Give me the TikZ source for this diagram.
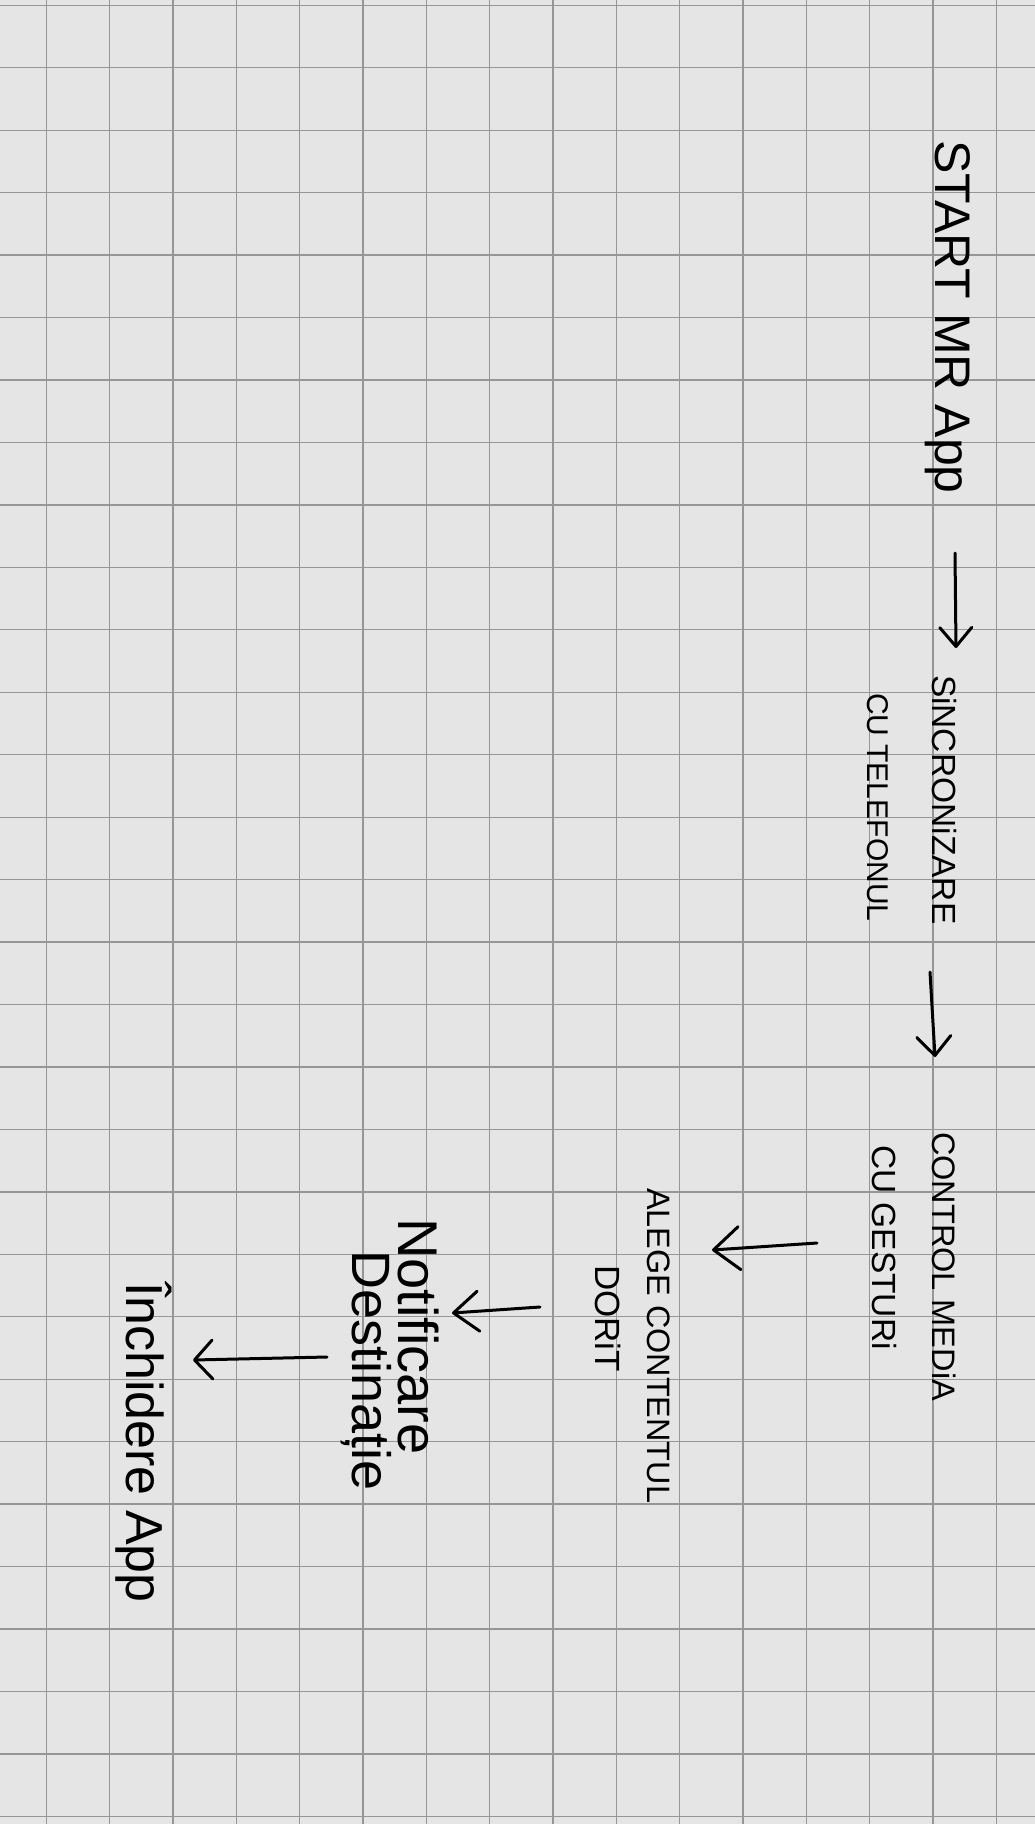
\documentclass[tikz,border=0pt]{standalone}
\usepackage{fontspec}
\setmainfont{Liberation Sans}
\usetikzlibrary{arrows.meta}
\definecolor{paper}{RGB}{229,229,229}
\definecolor{gridc}{RGB}{150,150,150}
\begin{document}
\begin{tikzpicture}[x=1pt,y=-1pt,
  lbl/.style={rotate=-90, anchor=base west, inner sep=0pt, outer sep=0pt, text=black},
  fs/.style={font=\fontsize{#1}{#1}\selectfont},
  flow/.style={line width=3pt, line cap=round, -{Straight Barb[length=#1,round]}},
  gridline/.style={draw=gridc, line width=1.3pt}]
\fill[paper] (0,0) rectangle (1035,1824);
\useasboundingbox (0,0) rectangle (1035,1824);
\foreach \k in {0,...,15} \draw[gridline] ({46.3+63.34*\k},0) -- ++(0,1824);
\foreach \j in {0,...,29} \draw[gridline] (0,{5.3+62.45*\j}) -- ++(1035,0);

% texts
\node[lbl, fs=50] (start) at (935,140) {START MR App};
\node[lbl, fs=33.5] (sinc) at (932,675) {SiNCRONiZARE};
\node[lbl, fs=30] (tel) at (867,693) {CU TELEFONUL};
\node[lbl, fs=32.5] (ctrl) at (932,1132) {CONTROL MEDiA};
\node[lbl, fs=33.5] (gest) at (872,1145) {CU GESTURi};
\node[lbl, fs=32.4] (alege) at (647,1188) {ALEGE CONTENTUL};
\node[lbl, fs=35] (dorit) at (595,1265) {DORiT};
\node[lbl, fs=56] (notif) at (398,1218) {Notificare};
\node[lbl, fs=54] (dest) at (352,1250) {Destinație};
\node[lbl, fs=52] (inch) at (126,1282) {Închidere App};

% connector ends
\coordinate (a1s) at (955,553);  \coordinate (a1e) at (956,648);
\coordinate (a2s) at (930,972);  \coordinate (a2e) at (935,1057);
\coordinate (a3s) at (817,1243); \coordinate (a3e) at (712,1250);
\coordinate (a4s) at (540,1307); \coordinate (a4e) at (452,1313);
\coordinate (a5s) at (327,1357); \coordinate (a5e) at (193,1360);

\draw[flow={19pt,width=32pt}] (a1s) -- (a1e);
\draw[flow={19pt,width=34pt}] (a2s) -- (a2e);
\draw[flow={26pt,width=43pt}] (a3s) -- (a3e);
\draw[flow={25pt,width=40pt}] (a4s) -- (a4e);
\draw[flow={18pt,width=39pt}] (a5s) -- (a5e);
\end{tikzpicture}
\end{document}
